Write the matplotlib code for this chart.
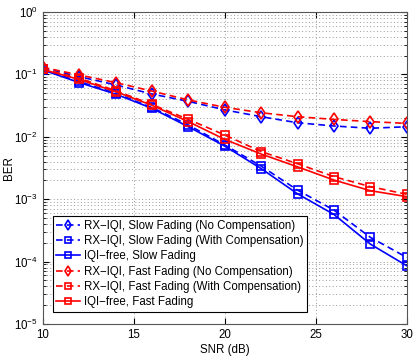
import matplotlib
matplotlib.use('Agg')
import matplotlib.pyplot as plt
import numpy as np

plt.rcParams['font.family'] = ['Liberation Sans', 'DejaVu Sans']
plt.rcParams['font.size'] = 8.3

snr = [10, 12, 14, 16, 18, 20, 22, 24, 26, 28, 30]

slow_nocomp = [0.128, 0.092, 0.068, 0.0485, 0.037, 0.027, 0.021, 0.0168, 0.0149, 0.0137, 0.0145]
slow_comp = [0.120, 0.077, 0.050, 0.0295, 0.0155, 0.0074, 0.0034, 0.00140, 0.00067, 0.000245, 0.000117]
slow_free = [0.118, 0.074, 0.0485, 0.0286, 0.0145, 0.0071, 0.0031, 0.00122, 0.00057, 0.000191, 0.000086]
fast_nocomp = [0.130, 0.098, 0.074, 0.054, 0.039, 0.0297, 0.0243, 0.021, 0.019, 0.0175, 0.0164]
fast_comp = [0.122, 0.087, 0.055, 0.033, 0.019, 0.0107, 0.0058, 0.0037, 0.0023, 0.00159, 0.00120]
fast_free = [0.120, 0.083, 0.053, 0.032, 0.0175, 0.0091, 0.0053, 0.0033, 0.00203, 0.00137, 0.00110]

labels = ['RX\u2212IQI, Slow Fading (No Compensation)',
          'RX\u2212IQI, Slow Fading (With Compensation)',
          'IQI\u2212free, Slow Fading',
          'RX\u2212IQI, Fast Fading (No Compensation)',
          'RX\u2212IQI, Fast Fading (With Compensation)',
          'IQI\u2212free, Fast Fading']

fig = plt.figure(figsize=(4.15, 3.57), dpi=100)
ax = fig.add_axes([0.103, 0.0924, 0.877, 0.874])

dash = (0, (4, 2.5))
series = [
    (slow_nocomp, 'b', dash, 'd', 6.5),
    (slow_comp, 'b', dash, 's', 6),
    (slow_free, 'b', '-', 's', 6),
    (fast_nocomp, 'r', dash, 'd', 6.5),
    (fast_comp, 'r', dash, 's', 6),
    (fast_free, 'r', '-', 's', 6),
]
for (y, c, ls, m, ms), lab in zip(series, labels):
    ax.semilogy(snr, y, color=c, linestyle=ls, marker=m, markersize=ms,
                markerfacecolor='none', markeredgecolor=c, markeredgewidth=1.2,
                linewidth=1.2, label=lab)

ax.set_xlim(10, 30)
ax.set_ylim(1e-5, 1)
ax.set_xticks([10, 15, 20, 25, 30])
grid_style = dict(linestyle=(0, (1, 2.5)), color='#999999', linewidth=0.7)
ax.grid(True, which='major', **grid_style)
ax.grid(True, which='minor', axis='y', **grid_style)
ax.tick_params(which='both', direction='in', top=True, right=True)
ax.tick_params(which='major', length=4)
ax.tick_params(which='minor', length=2)
for s in ax.spines.values():
    s.set_color('#555555')
ax.set_xlabel('SNR (dB)', labelpad=2)
ax.set_ylabel('BER')
ax.yaxis.set_label_coords(-0.075, 0.5)

leg = ax.legend(loc='lower left', bbox_to_anchor=(0.027, 0.04), fontsize=8.3,
                handlelength=2.1, handletextpad=0.35, labelspacing=0.28,
                borderpad=0.3, borderaxespad=0, fancybox=False, framealpha=1,
                markerscale=0.75)
leg.get_frame().set_edgecolor('black')
leg.get_frame().set_linewidth(0.8)

fig.savefig('out.png', dpi=100)
